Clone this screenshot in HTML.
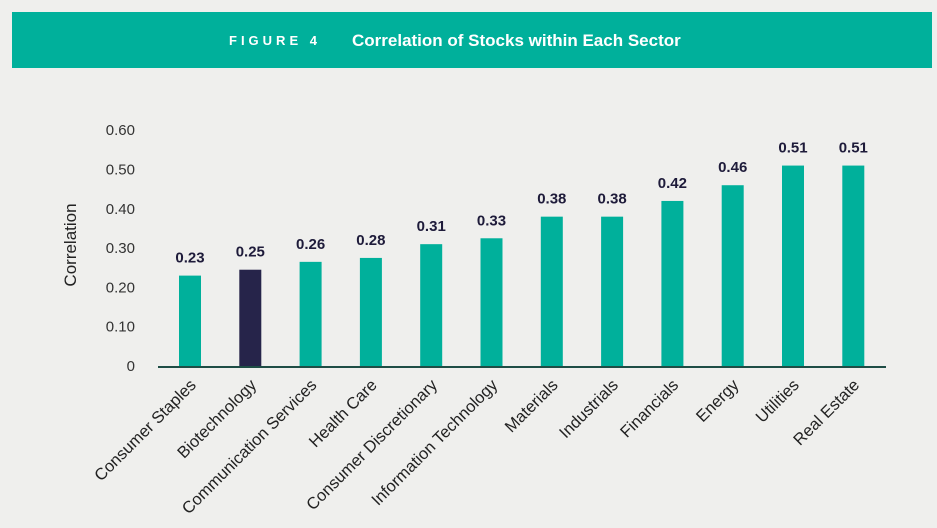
<!DOCTYPE html>
<html><head><meta charset="utf-8"><style>
body{margin:0;width:937px;height:528px;background:#efefed;overflow:hidden;font-family:"Liberation Sans",sans-serif}
#hdr{position:absolute;left:12px;top:12px;width:920px;height:56px;background:#00b09b;color:#fff;font-weight:bold}
</style></head><body>
<div id="hdr">
<span style="position:absolute;left:217px;top:21px;font-size:13px;letter-spacing:4px">FIGURE 4</span>
<span style="position:absolute;left:340px;top:19px;font-size:17px">Correlation of Stocks within Each Sector</span>
</div>
<svg id="chart" width="937" height="528" style="position:absolute;left:0;top:0"></svg>
<script>
const categories=["Consumer Staples","Biotechnology","Communication Services","Health Care","Consumer Discretionary","Information Technology","Materials","Industrials","Financials","Energy","Utilities","Real Estate"];
const values=[0.23,0.245,0.265,0.275,0.31,0.325,0.38,0.38,0.42,0.46,0.51,0.51];
const valueLabels=["0.23","0.25","0.26","0.28","0.31","0.33","0.38","0.38","0.42","0.46","0.51","0.51"];
const tickValues=[0,0.1,0.2,0.3,0.4,0.5,0.6];
const tickLabels=["0","0.10","0.20","0.30","0.40","0.50","0.60"];
const highlight="Biotechnology";
const ns="http://www.w3.org/2000/svg";
const svg=document.getElementById('chart');
const y0=366,pxPer=393;
const y=v=>y0-v*pxPer;
const x=i=>190+i*60.3;
function mk(t,a,txt){const e=document.createElementNS(ns,t);for(const k in a)e.setAttribute(k,a[k]);if(txt!==undefined)e.textContent=txt;svg.appendChild(e);return e;}
tickValues.forEach((v,i)=>{
 const t=mk('text',{x:135,y:y(v)+5,'text-anchor':'end','font-size':15,fill:'#333'},tickLabels[i]);
 
 
});
const yt=mk('text',{x:0,y:0,transform:'translate(76,245) rotate(-90)','text-anchor':'middle','font-size':17,fill:'#222'},'Correlation');


values.forEach((v,i)=>{
 const hl=categories[i]===highlight;
 const r=mk('rect',{x:x(i)-11,y:y(v),width:22,height:y0-y(v),fill:hl?'#26244a':'#00b09b'});
 
 
 const l=mk('text',{x:x(i),y:y(v)-13,'text-anchor':'middle','font-size':15,'font-weight':'bold',fill:'#1e1b3a'},valueLabels[i]);
 
 
 const c=mk('text',{x:0,y:0,transform:`translate(${x(i)+7},${y0+20}) rotate(-45)`,'text-anchor':'end','font-size':16.5,fill:'#222'},categories[i]);
 
 
});
const ax=mk('line',{x1:158,x2:886,y1:y0+1,y2:y0+1,stroke:'#1e4d45','stroke-width':2});


</script>
</body></html>
